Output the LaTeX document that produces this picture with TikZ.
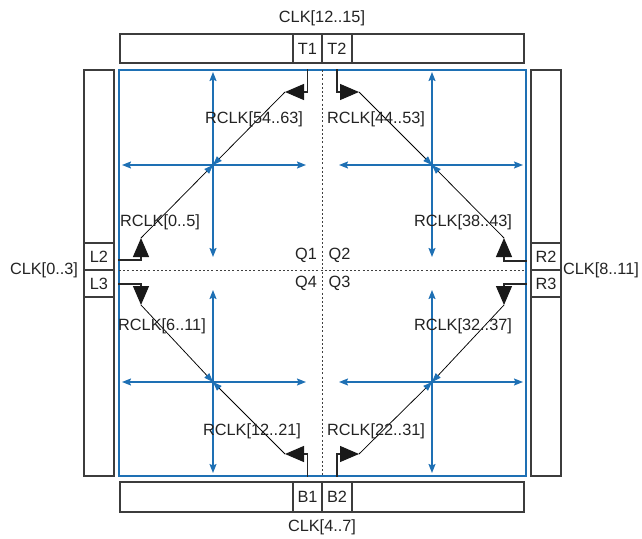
\documentclass[tikz,border=0pt]{standalone}
\usepackage{fontspec}
\setmainfont{Liberation Sans}
\usetikzlibrary{arrows.meta}
\definecolor{xblue}{RGB}{30,112,180}
\definecolor{xgray}{RGB}{60,60,60}
\definecolor{xtext}{RGB}{35,35,35}
\begin{document}
\begin{tikzpicture}[x=1pt,y=-1pt,
  font=\fontsize{16.3}{19}\selectfont,
  every node/.style={text=xtext, inner sep=0pt},
  box/.style={draw=xgray, line width=1.3pt, minimum width=#1},
  core/.style={draw=xblue, line width=1.5pt},
  crossline/.style={draw=xblue, line width=1.4pt, {Stealth[length=9pt,width=7pt,inset=1.5pt]}-{Stealth[length=9pt,width=7pt,inset=1.5pt]}},
  feed/.style={draw=black!85, line width=1.2pt, -{Triangle[length=19pt,width=16pt,color=black!90]}},
  diag/.style={draw=black, line width=0.75pt, -{Triangle[length=9pt,width=6.5pt,color=xblue]}},
  sep/.style={draw=black!75, line width=1.6pt, dash pattern=on 2pt off 2.2pt}]
\useasboundingbox (0,0) rectangle (642,538);

% boxes
\node[box=404pt, minimum height=29pt] (topbar) at (322,48.5) {};
\node[box=29pt, minimum height=29pt] (T1) at (307.5,48.5) {T1};
\node[box=30pt, minimum height=29pt] (T2) at (337,48.5) {T2};
\node[box=404pt, minimum height=30pt] (botbar) at (322,497) {};
\node[box=29pt, minimum height=30pt] (B1) at (307.5,497) {B1};
\node[box=30pt, minimum height=30pt] (B2) at (337,497) {B2};
\node[box=30pt, minimum height=406pt] (leftbar) at (99,273) {};
\node[box=30pt, minimum height=27pt] (L2) at (99,256.5) {L2};
\node[box=30pt, minimum height=27pt] (L3) at (99,283.5) {L3};
\node[box=30pt, minimum height=406pt] (rightbar) at (546,273) {};
\node[box=30pt, minimum height=27pt] (R2) at (546,256.5) {R2};
\node[box=30pt, minimum height=27pt] (R3) at (546,283.5) {R3};
\node[core, minimum width=407pt, minimum height=406pt] (core) at (322.5,273) {};

% outer labels
\node (clkT) at (322,18) {CLK[12..15]};
\node (clkB) at (322,527) {CLK[4..7]};
\node (clkL) at (44,270) {CLK[0..3]};
\node (clkR) at (601,270) {CLK[8..11]};

% quadrant separators
\coordinate (vsTop) at (322.5,70);
\coordinate (vsBot) at (322.5,476);
\coordinate (hsL) at (119,270.5);
\coordinate (hsR) at (526,270.5);
\draw[sep] (vsTop) -- (vsBot);
\draw[sep] (hsL) -- (hsR);
\node (Q1) at (306,255) {Q1};
\node (Q2) at (339.5,255) {Q2};
\node (Q4) at (306,283.5) {Q4};
\node (Q3) at (339.5,283.5) {Q3};

% cross centres
\coordinate (c1) at (213,165);
\coordinate (c2) at (432,165);
\coordinate (c4) at (213,382);
\coordinate (c3) at (432,382);

% blue crosses
\coordinate (c1l) at (122,165); \coordinate (c1r) at (306,165);
\coordinate (c1t) at (213,72);  \coordinate (c1b) at (213,257);
\coordinate (c2l) at (339,165); \coordinate (c2r) at (523,165);
\coordinate (c2t) at (432,72);  \coordinate (c2b) at (432,257);
\coordinate (c4l) at (122,382); \coordinate (c4r) at (306,382);
\coordinate (c4t) at (213,290); \coordinate (c4b) at (213,473);
\coordinate (c3l) at (339,382); \coordinate (c3r) at (523,382);
\coordinate (c3t) at (432,290); \coordinate (c3b) at (432,473);
\draw[crossline] (c1l) -- (c1r); \draw[crossline] (c1t) -- (c1b);
\draw[crossline] (c2l) -- (c2r); \draw[crossline] (c2t) -- (c2b);
\draw[crossline] (c4l) -- (c4r); \draw[crossline] (c4t) -- (c4b);
\draw[crossline] (c3l) -- (c3r); \draw[crossline] (c3t) -- (c3b);

% feed corner points
\coordinate (pT1) at (285,92);
\coordinate (pT2) at (359,92);
\coordinate (pB1) at (285,454);
\coordinate (pB2) at (359,454);
\coordinate (pL2) at (141,238);
\coordinate (pL3) at (141,305);
\coordinate (pR2) at (504,238);
\coordinate (pR3) at (504,305);

% big feed arrows
\draw[feed] (T1 |- core.north) |- (pT1);
\draw[feed] (T2 |- core.north) |- (pT2);
\draw[feed] (B1 |- core.south) |- (pB1);
\draw[feed] (B2 |- core.south) |- (pB2);
\draw[feed] (core.west |- 0,260) -| (pL2);
\draw[feed] (core.west |- 0,284) -| (pL3);
\draw[feed] (core.east |- 0,261) -| (pR2);
\draw[feed] (core.east |- 0,284) -| (pR3);

% diagonals
\draw[diag] (pT1) -- (c1);
\draw[diag] (pL2) -- (c1);
\draw[diag] (pT2) -- (c2);
\draw[diag] (pR2) -- (c2);
\draw[diag] (pL3) -- (c4);
\draw[diag] (pB1) -- (c4);
\draw[diag] (pR3) -- (c3);
\draw[diag] (pB2) -- (c3);

% RCLK labels
\node (r5463) at (254,119) {RCLK[54..63]};
\node (r05) at (160,222) {RCLK[0..5]};
\node (r4453) at (376,119) {RCLK[44..53]};
\node (r3843) at (463,222) {RCLK[38..43]};
\node (r611) at (162,326) {RCLK[6..11]};
\node (r1221) at (252,431) {RCLK[12..21]};
\node (r3237) at (463,326) {RCLK[32..37]};
\node (r2231) at (376,431) {RCLK[22..31]};
\end{tikzpicture}
\end{document}
